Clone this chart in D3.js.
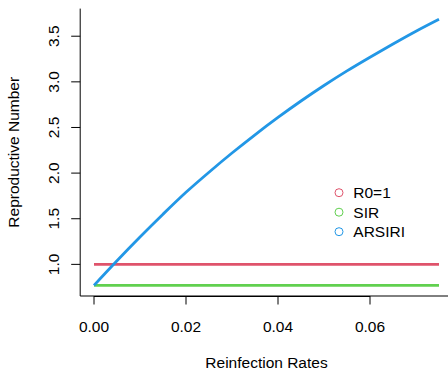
<!DOCTYPE html>
<html>
<head>
<meta charset="utf-8">
<script src="https://cdn.jsdelivr.net/npm/d3@7"></script>
<style>
  body { margin: 0; background: #fff; }
  svg text { font-family: "Liberation Sans", Arial, sans-serif; fill: #000; }
</style>
</head>
<body>
<script>
// reinfection rates (x) and reproductive number of each model
const rates = [0, 0.005, 0.01, 0.015, 0.02, 0.025, 0.03, 0.035, 0.04, 0.045, 0.05, 0.055, 0.06, 0.065, 0.07, 0.075];
const arsiri = [0.77, 1.04, 1.30, 1.55, 1.79, 2.01, 2.22, 2.42, 2.61, 2.79, 2.96, 3.12, 3.27, 3.415, 3.555, 3.686];
const sir = rates.map(() => 0.77);
const r0 = rates.map(() => 1.0);

const xTicks = [0, 0.02, 0.04, 0.06];
const yTicks = [1.0, 1.5, 2.0, 2.5, 3.0, 3.5];
const legendNames = ["R0=1", "SIR", "ARSIRI"];
const colors = ["#DF536B", "#61D04F", "#2297E6"];

const width = 448, height = 370;
// plot region edges (the right one falls just outside the picture)
const plot = { left: 80.2, right: 452.8, top: 8.6, bottom: 296 };

const svg = d3.select("body").append("svg")
    .attr("width", width)
    .attr("height", height);

// R style: axis range padded by 4% on each side
const xmin = d3.min(rates), xmax = d3.max(rates);
const allY = arsiri.concat(sir, r0);
const ymin = d3.min(allY), ymax = d3.max(allY);
const xpad = (xmax - xmin) * 0.04, ypad = (ymax - ymin) * 0.04;

const x = d3.scaleLinear().domain([xmin - xpad, xmax + xpad]).range([plot.left, plot.right]);
const y = d3.scaleLinear().domain([ymin - ypad, ymax + ypad]).range([plot.bottom, plot.top]);

// L shaped box
svg.append("path")
    .attr("d", `M${plot.left},${plot.top}V${plot.bottom}H${width + 5}`)
    .attr("fill", "none")
    .attr("stroke", "#000")
    .attr("stroke-width", 1);

// x axis
const xAxis = svg.append("g");
xAxis.append("line")
    .attr("x1", x(xTicks[0])).attr("x2", x(xTicks[xTicks.length - 1]))
    .attr("y1", plot.bottom + 0.5).attr("y2", plot.bottom + 0.5)
    .attr("stroke", "#000");
xAxis.selectAll(".tick")
    .data(xTicks)
    .enter().append("line")
    .attr("x1", d => x(d)).attr("x2", d => x(d))
    .attr("y1", plot.bottom).attr("y2", plot.bottom + 8.5)
    .attr("stroke", "#000");
xAxis.selectAll(".lab")
    .data(xTicks)
    .enter().append("text")
    .attr("x", d => x(d))
    .attr("y", 331.7)
    .attr("text-anchor", "middle")
    .attr("font-size", "15.5px")
    .text(d => d3.format(".2f")(d));

// y axis
const yAxis = svg.append("g");
yAxis.selectAll(".tick")
    .data(yTicks)
    .enter().append("line")
    .attr("x1", plot.left - 9).attr("x2", plot.left)
    .attr("y1", d => y(d)).attr("y2", d => y(d))
    .attr("stroke", "#000");
yAxis.selectAll(".lab")
    .data(yTicks)
    .enter().append("text")
    .attr("transform", d => `translate(59.3,${y(d)}) rotate(-90)`)
    .attr("text-anchor", "middle")
    .attr("font-size", "15.5px")
    .text(d => d3.format(".1f")(d));

// axis titles
svg.append("text")
    .attr("x", (plot.left + plot.right) / 2)
    .attr("y", 367.8)
    .attr("text-anchor", "middle")
    .attr("font-size", "15.5px")
    .text("Reinfection Rates");

svg.append("text")
    .attr("transform", `translate(18.5,${(plot.top + plot.bottom) / 2}) rotate(-90)`)
    .attr("text-anchor", "middle")
    .attr("font-size", "15.5px")
    .text("Reproductive Number");

// lines
const line = d3.line()
    .x(d => x(d[0]))
    .y(d => y(d[1]))
    .curve(d3.curveMonotoneX);

[r0, sir, arsiri].forEach((vals, i) => {
    svg.append("path")
        .datum(rates.map((r, j) => [r, vals[j]]))
        .attr("d", line)
        .attr("fill", "none")
        .attr("stroke", colors[i])
        .attr("stroke-width", 2.8)
        .attr("stroke-linejoin", "round");
});

// legend
const legend = svg.append("g");
legendNames.forEach((name, i) => {
    const ly = 192.7 + i * 19.5;
    legend.append("circle")
        .attr("cx", 339).attr("cy", ly).attr("r", 4)
        .attr("fill", "none")
        .attr("stroke", colors[i])
        .attr("stroke-width", 1);
    legend.append("text")
        .attr("x", 353.3).attr("y", ly + 5.6)
        .attr("font-size", "15.5px")
        .text(name);
});
</script>
</body>
</html>
